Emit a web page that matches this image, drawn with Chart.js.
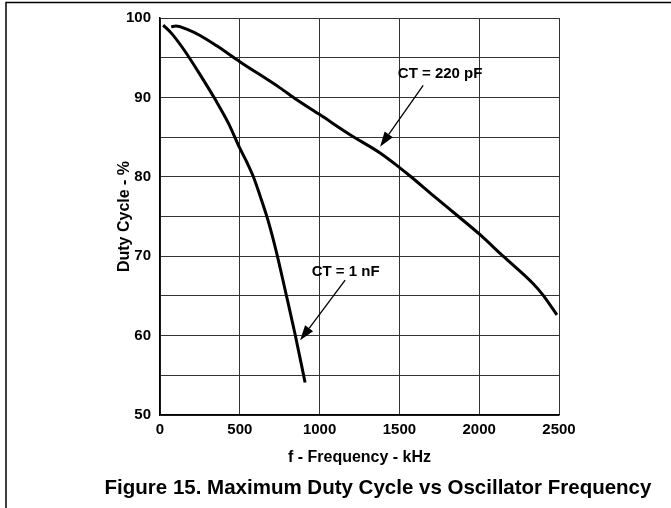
<!DOCTYPE html>
<html lang="en">
<head>
  <meta charset="UTF-8">
  <title>Maximum Duty Cycle vs Oscillator Frequency</title>
  <script src="https://cdn.jsdelivr.net/npm/chart.js"></script>
  <style>
    body { margin: 0; background: #fff; }
    canvas { display: block; }
  </style>
</head>
<body>
  <canvas id="dutyChart" width="671" height="508"></canvas>

  <script>
    // Values: frequency in kHz, duty cycle in %
    const freq220p = [70, 100, 167, 251, 355, 500, 752, 857, 1003, 1191, 1379, 1505, 1567, 1714, 1870, 2000, 2150, 2340, 2400, 2487];
    const duty220p = [98.9, 99.0, 98.6, 97.8, 96.5, 94.5, 91.2, 89.7, 87.8, 85.3, 83.0, 81.1, 80.1, 77.6, 75.0, 72.8, 70.0, 66.5, 65.1, 62.6];

    const freq1n = [20, 75, 150, 250, 350, 430, 500, 545, 585, 627, 680, 731, 788, 845, 909];
    const duty1n = [99.1, 98.0, 96.0, 92.9, 89.6, 86.7, 83.6, 81.8, 80.0, 77.6, 74.3, 70.4, 65.4, 60.3, 54.1];

    const xTicks = [0, 500, 1000, 1500, 2000, 2500];
    const yTicks = [50, 60, 70, 80, 90, 100];

    // curve labels, with the arrow from the label to the curve (data units)
    const noteText = ["CT = 220 pF", "CT = 1 nF"];
    const noteAt = [[1755, 93.0], [1163, 68.0]];
    const arrowFrom = [[1649, 91.5], [1160, 67.0]];
    const arrowTo = [[1379, 83.8], [878, 59.4]];

    const caption = "Figure 15. Maximum Duty Cycle vs Oscillator Frequency";
    const FONT = "'Liberation Sans', Arial, sans-serif";

    function toPoints(xs, ys) {
      return xs.map((x, i) => ({ x: x, y: ys[i] }));
    }

    // frame, curve labels with arrows, and the figure caption
    const extras = {
      id: "extras",
      afterDraw(chart) {
        const ctx = chart.ctx;
        const xs = chart.scales.x, ys = chart.scales.y;
        ctx.save();

        ctx.strokeStyle = "#000";
        ctx.lineWidth = 1.5;
        ctx.beginPath();
        ctx.moveTo(671, 2.5);
        ctx.lineTo(6, 2.5);
        ctx.lineTo(6, 508);
        ctx.stroke();

        ctx.fillStyle = "#000";
        ctx.font = "bold 15px " + FONT;
        ctx.textAlign = "center";
        ctx.textBaseline = "middle";
        noteText.forEach((t, i) => {
          ctx.fillText(t, xs.getPixelForValue(noteAt[i][0]), ys.getPixelForValue(noteAt[i][1]));

          const x0 = xs.getPixelForValue(arrowFrom[i][0]), y0 = ys.getPixelForValue(arrowFrom[i][1]);
          const x1 = xs.getPixelForValue(arrowTo[i][0]), y1 = ys.getPixelForValue(arrowTo[i][1]);
          const a = Math.atan2(y1 - y0, x1 - x0);
          const len = 15, half = 5;
          const bx = x1 - len * Math.cos(a), by = y1 - len * Math.sin(a);

          ctx.lineWidth = 1.3;
          ctx.beginPath();
          ctx.moveTo(x0, y0);
          ctx.lineTo(bx, by);
          ctx.stroke();

          ctx.beginPath();
          ctx.moveTo(x1, y1);
          ctx.lineTo(bx + half * Math.sin(a), by - half * Math.cos(a));
          ctx.lineTo(bx - half * Math.sin(a), by + half * Math.cos(a));
          ctx.closePath();
          ctx.fill();
        });

        ctx.font = "bold 20.5px " + FONT;
        ctx.textBaseline = "alphabetic";
        ctx.fillText(caption, 378, 494);
        ctx.restore();
      }
    };

    new Chart(document.getElementById("dutyChart"), {
      type: "line",
      data: {
        datasets: [
          {
            label: "CT = 220 pF",
            data: toPoints(freq220p, duty220p),
            borderColor: "#000",
            borderWidth: 3,
            pointRadius: 0,
            cubicInterpolationMode: "monotone",
            fill: false
          },
          {
            label: "CT = 1 nF",
            data: toPoints(freq1n, duty1n),
            borderColor: "#000",
            borderWidth: 3,
            pointRadius: 0,
            cubicInterpolationMode: "monotone",
            fill: false
          }
        ]
      },
      options: {
        responsive: false,
        animation: false,
        layout: { padding: { top: 15, right: 112, bottom: 33, left: 100 } },
        plugins: {
          legend: { display: false },
          tooltip: { enabled: false }
        },
        scales: {
          x: {
            type: "linear",
            min: xTicks[0],
            max: xTicks[xTicks.length - 1],
            afterBuildTicks: s => { s.ticks = xTicks.map(v => ({ value: v })); },
            afterFit: s => { s.height = 60; },
            grid: { color: "#333", lineWidth: 1, drawTicks: false },
            border: { color: "#000", width: 1.5 },
            ticks: {
              color: "#000",
              padding: 6,
              maxRotation: 0,
              font: { family: FONT, size: 15, weight: "bold" },
              callback: v => String(v)
            },
            title: {
              display: true,
              text: "f - Frequency - kHz",
              color: "#000",
              padding: { top: 0, bottom: 8 },
              font: { family: FONT, size: 16, weight: "bold" }
            }
          },
          y: {
            min: yTicks[0],
            max: yTicks[yTicks.length - 1],
            afterFit: s => { s.width = 60; },
            grid: { color: "#333", lineWidth: 1, drawTicks: false },
            border: { color: "#000", width: 1.5 },
            ticks: {
              stepSize: 5,
              color: "#000",
              padding: 9,
              font: { family: FONT, size: 15, weight: "bold" },
              callback: v => (yTicks.includes(v) ? String(v) : "")
            },
            title: {
              display: true,
              text: "Duty Cycle - %",
              color: "#000",
              padding: { top: 15, bottom: 0 },
              font: { family: FONT, size: 16, weight: "bold" }
            }
          }
        }
      },
      plugins: [extras]
    });
  </script>
</body>
</html>
